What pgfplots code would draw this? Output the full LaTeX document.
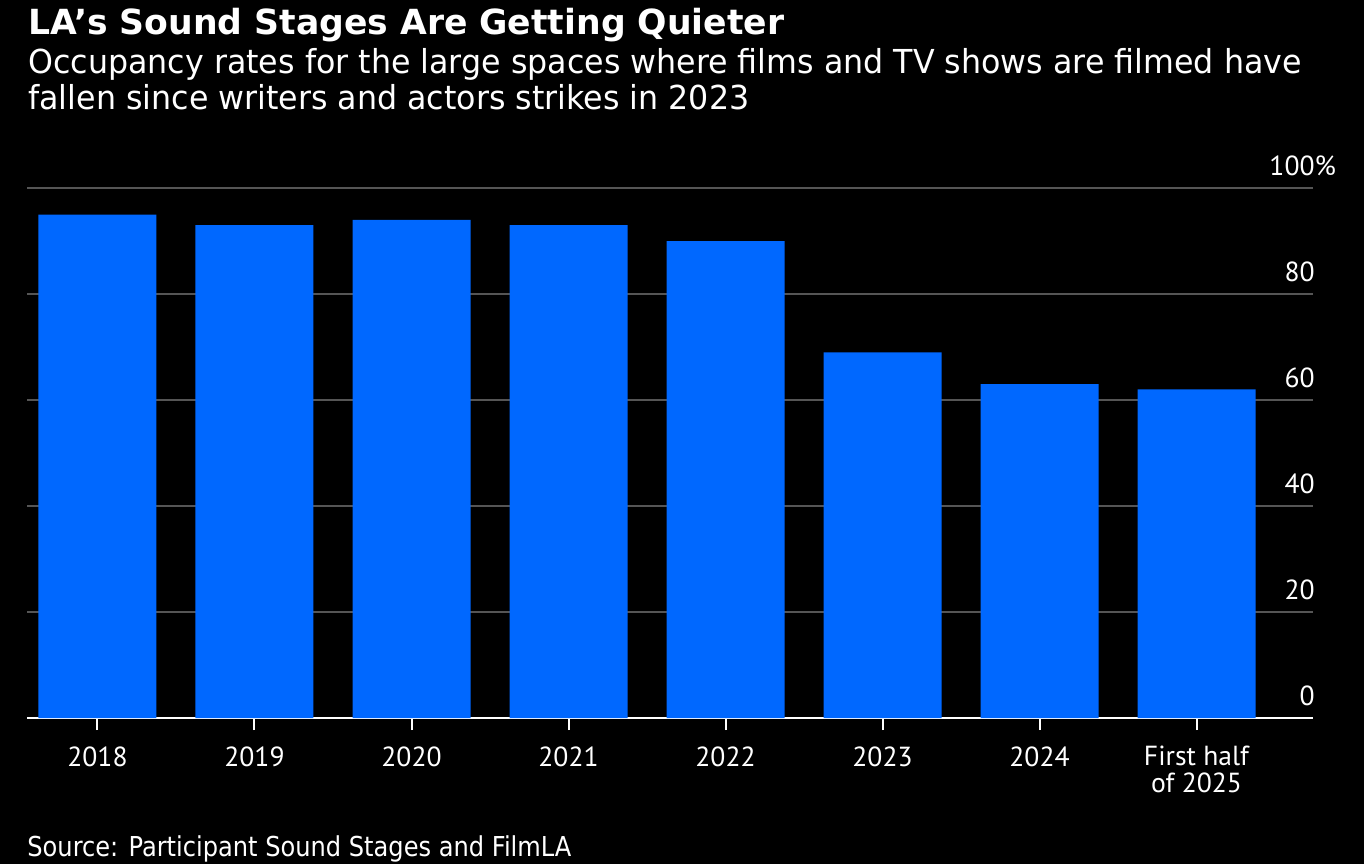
\documentclass[border=0pt]{standalone}
\usepackage{pgfplots}
\pgfplotsset{compat=1.18}
\usepackage{fontspec}
\setmainfont{PT Sans}
\newfontfamily\titlefont{DejaVu Sans}
\newfontfamily\subfont[FakeStretch=0.96]{DejaVu Sans}
\newfontfamily\srcfont[FakeStretch=0.88]{DejaVu Sans}
\definecolor{barblue}{HTML}{0068FF}
\definecolor{gridgray}{HTML}{555555}
\begin{document}
\begin{tikzpicture}
\fill[black] (0,0) rectangle (682pt,432pt);
\node[anchor=base west, inner sep=0pt, text=white, font=\titlefont\fontsize{17.3}{17.3}\selectfont\bfseries] at (14pt,414.8pt) {LA’s Sound Stages Are Getting Quieter};
\node[anchor=base west, inner sep=0pt, text=white, font=\subfont\fontsize{16.5}{16.5}\selectfont] at (14pt,395pt) {Occupancy rates for the large spaces where films and TV shows are filmed have};
\node[anchor=base west, inner sep=0pt, text=white, font=\subfont\fontsize{16.5}{16.5}\selectfont] at (14pt,377pt) {fallen since writers and actors strikes in 2023};
\node[anchor=base west, inner sep=0pt, text=white, font=\srcfont\fontsize{13.7}{13.7}\selectfont] at (13.5pt,3.7pt) {Source: Participant Sound Stages and FilmLA};
\begin{axis}[
  at={(13.5pt,73pt)}, anchor=south west,
  scale only axis, width=643pt, height=265pt,
  xmin=-0.449, xmax=7.742, ymin=0, ymax=100,
  axis x line=bottom, axis y line*=right,
  x axis line style={white, line width=1pt, -},
  y axis line style={draw=none},
  xtick={0,...,7},
  xticklabels={2018,2019,2020,2021,2022,2023,2024,{First half\\of 2025}},
  xticklabel style={text=white, inner sep=0pt, anchor=north, yshift=-8pt, align=center, font=\fontsize{13.8}{13.5}\selectfont},
  x tick style={white, line width=1pt},
  y tick style={draw=none},
  tick align=outside, major tick length=6pt,
  ytick={0,20,40,60,80,100},
  yticklabels={0,20,40,60,80,100\rlap{\%}},
  yticklabel style={text=white, inner sep=0pt, anchor=base east, yshift=6.4pt, xshift=-5pt, font=\fontsize{13.8}{13.8}\selectfont},
  ymajorgrids, grid style={gridgray, line width=1pt},
  clip=false,
]
\addplot[ybar, bar width=59pt, fill=barblue, draw=none, bar shift=0pt] coordinates {
(0,95) (1,93) (2,94) (3,93) (4,90) (5,69) (6,63) (7,62)};
\end{axis}
\pgfresetboundingbox
\useasboundingbox (0,0) rectangle (682pt,432pt);
\end{tikzpicture}
\end{document}
